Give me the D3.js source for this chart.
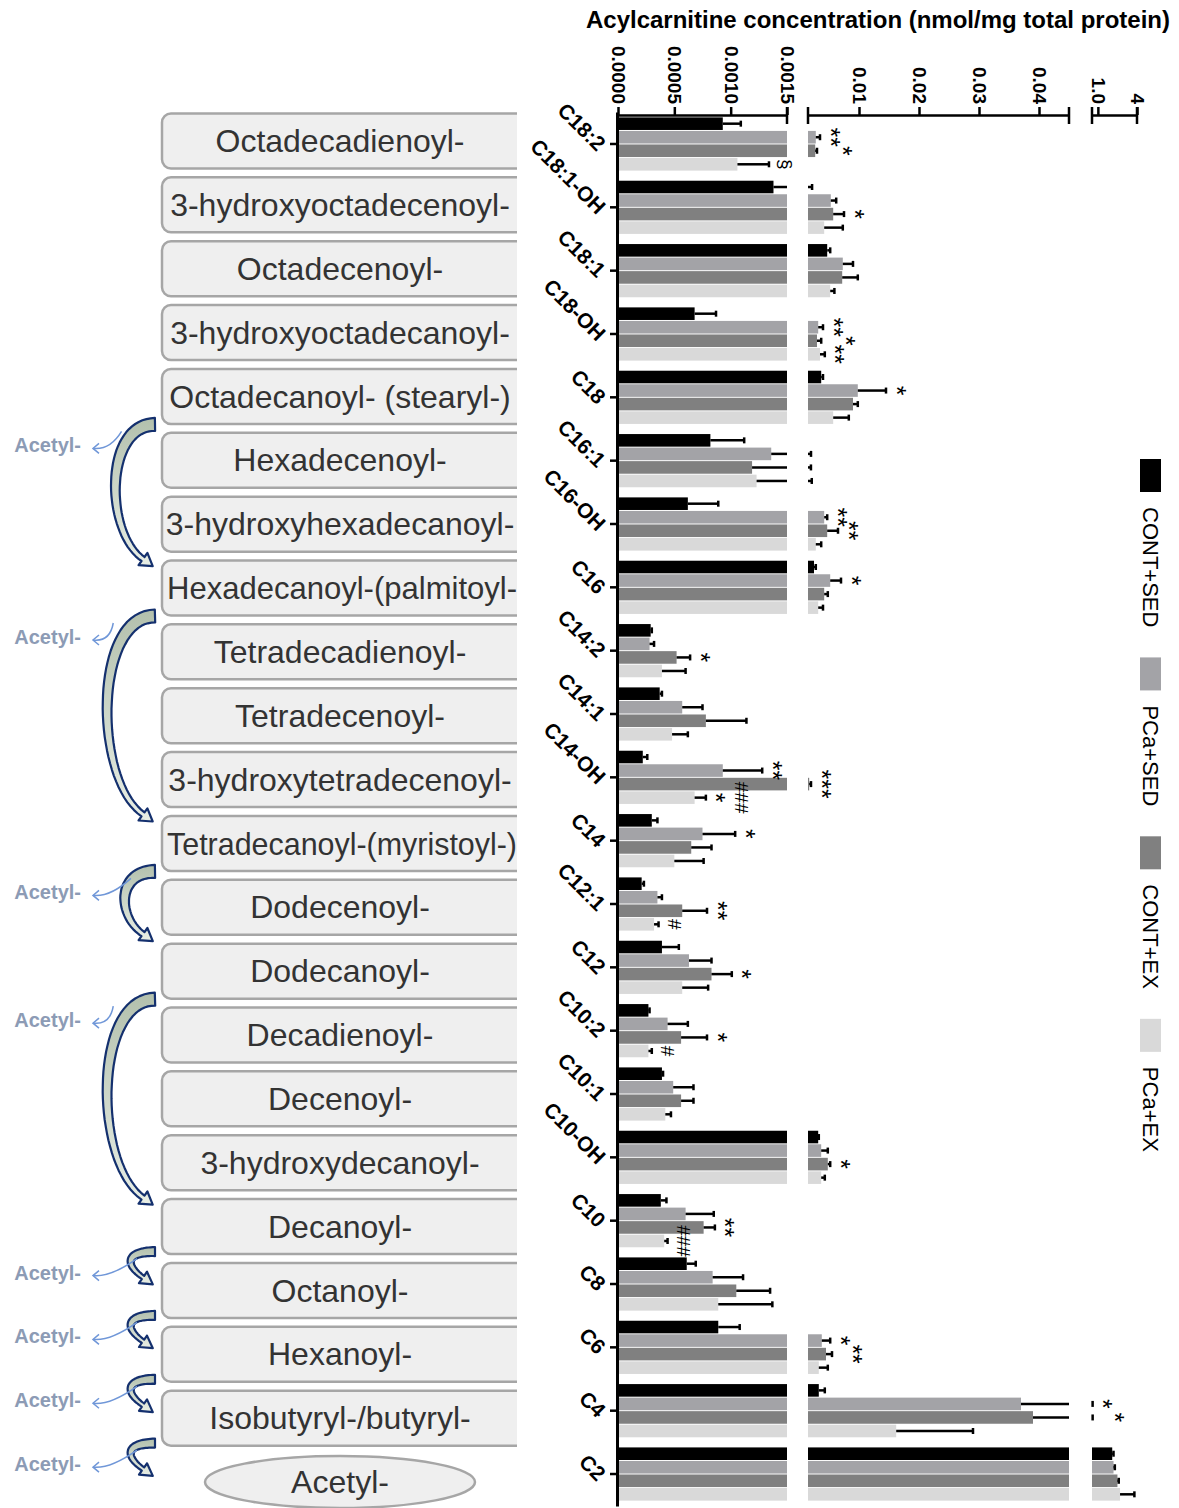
<!doctype html>
<html>
<head>
<meta charset="UTF-8">
<style>
  body { margin: 0; background: #fff; }
  svg text { font-family: "Liberation Sans", Arial, sans-serif; }
</style>
</head>
<body>
<svg id="chart" width="1179" height="1508"></svg>
<script src="https://d3js.org/d3.v7.min.js"></script>
<script>

// chain lengths, top to bottom
var categories = ["C18:2", "C18:1-OH", "C18:1", "C18-OH", "C18", "C16:1", "C16-OH", "C16",
    "C14:2", "C14:1", "C14-OH", "C14", "C12:1", "C12", "C10:2", "C10:1", "C10-OH", "C10",
    "C8", "C6", "C4", "C2"];
var groups = ["CONT+SED", "PCa+SED", "CONT+EX", "PCa+EX"];
var colors = ["#000000", "#a3a3a7", "#808080", "#d9d9d9"];

// means (nmol/mg total protein)
var contSed = [0.00093, 0.00138, 0.0047, 0.00068, 0.0037, 0.00082, 0.00062, 0.0025, 0.00029, 0.00037, 0.00022,
    0.0003, 0.00021, 0.00039, 0.00027, 0.00039, 0.0032, 0.00038, 0.00061, 0.00089, 0.0033, 2.1];
var pcaSed = [0.0028, 0.0053, 0.0073, 0.0032, 0.0098, 0.00136, 0.0042, 0.0052, 0.00028, 0.00057, 0.00093,
    0.00075, 0.00035, 0.00063, 0.00044, 0.00049, 0.0037, 0.0006, 0.00084, 0.0038, 0.037, 2.2];
var contEx = [0.0027, 0.0057, 0.0072, 0.003, 0.009, 0.00119, 0.0047, 0.0042, 0.00052, 0.00078, 0.0017,
    0.00065, 0.00057, 0.00083, 0.00056, 0.00056, 0.0048, 0.00076, 0.00105, 0.0045, 0.039, 2.5];
var pcaEx = [0.00106, 0.0042, 0.0052, 0.0035, 0.0057, 0.00123, 0.0028, 0.0032, 0.00039, 0.00048, 0.00068,
    0.0005, 0.00032, 0.00057, 0.00027, 0.00042, 0.0037, 0.00041, 0.00089, 0.0033, 0.0162, 2.7];

// SEM (upper error bar only)
var contSedSem = [0.00016, 0.0008, 0.0005, 0.00019, 0.0003, 0.0003, 0.00027, 0.0003, 0.00001, 0.00002, 0.00004,
    0.00005, 0.00002, 0.00015, 0.00001, 0.00001, 0.0001, 0.00005, 0.00008, 0.00019, 0.001, 0.1];
var pcaSedSem = [0.0007, 0.0009, 0.0017, 0.0008, 0.0047, 0.00064, 0.0005, 0.0018, 0.00004, 0.00018, 0.00035,
    0.00029, 0.00004, 0.0002, 0.00018, 0.00018, 0.0011, 0.00025, 0.00027, 0.0014, 0.56, 0.1];
var contExSem = [0.0003, 0.0018, 0.0026, 0.0007, 0.0008, 0.0008, 0.0018, 0.0006, 0.00012, 0.00036, 0.0003,
    0.00018, 0.00022, 0.00018, 0.00023, 0.00011, 0.0004, 0.0001, 0.0003, 0.001, 0.56, 0.1];
var pcaExSem = [0.00028, 0.0031, 0.0007, 0.0008, 0.0026, 0.0009, 0.0009, 0.0008, 0.00021, 0.00014, 0.0001,
    0.00026, 0.00004, 0.00023, 0.00003, 0.00005, 0.0006, 0.00003, 0.00048, 0.0015, 0.0128, 1.1];

// significance marks: [category, group index, mark]
var marks = [
    ["C18:2", 1, "**"], ["C18:2", 2, "*"], ["C18:2", 3, "§"],
    ["C18:1-OH", 2, "*"],
    ["C18-OH", 1, "**"], ["C18-OH", 2, "*"], ["C18-OH", 3, "**"],
    ["C18", 1, "*"],
    ["C16-OH", 1, "**"], ["C16-OH", 2, "**"],
    ["C16", 1, "*"],
    ["C14:2", 2, "*"],
    ["C14-OH", 1, "**"], ["C14-OH", 2, "***"], ["C14-OH", 3, "*"], ["C14-OH", 3, "###"],
    ["C14", 1, "*"],
    ["C12:1", 2, "**"], ["C12:1", 3, "#"],
    ["C12", 2, "*"],
    ["C10:2", 2, "*"], ["C10:2", 3, "#"],
    ["C10-OH", 2, "*"],
    ["C10", 2, "**"], ["C10", 3, "###"],
    ["C6", 1, "*"], ["C6", 2, "**"],
    ["C4", 1, "*"], ["C4", 2, "*"]
];

// pathway boxes on the left
var steps = ["Octadecadienoyl-", "3-hydroxyoctadecenoyl-", "Octadecenoyl-", "3-hydroxyoctadecanoyl-",
    "Octadecanoyl- (stearyl-)", "Hexadecenoyl-", "3-hydroxyhexadecanoyl-", "Hexadecanoyl-(palmitoyl-",
    "Tetradecadienoyl-", "Tetradecenoyl-", "3-hydroxytetradecenoyl-", "Tetradecanoyl-(myristoyl-)",
    "Dodecenoyl-", "Dodecanoyl-", "Decadienoyl-", "Decenoyl-", "3-hydroxydecanoyl-", "Decanoyl-",
    "Octanoyl-", "Hexanoyl-", "Isobutyryl-/butyryl-", "Acetyl-"];
// acetyl-releasing steps: [from box, to box]
var cycles = [[4, 7], [7, 11], [11, 13], [13, 17], [17, 18], [18, 19], [19, 20], [20, 21]];

var means = [contSed, pcaSed, contEx, pcaEx];
var sems = [contSedSem, pcaSedSem, contExSem, pcaExSem];

var svg = d3.select("#chart");
var defs = svg.append("defs");

// title
svg.append("text")
    .attr("x", 878).attr("y", 28)
    .attr("text-anchor", "middle")
    .style("font-size", "24px").style("font-weight", "bold")
    .text("Acylcarnitine concentration (nmol/mg total protein)");

// scales
var y = d3.scaleBand().domain(categories).range([112, 1506]).paddingInner(0.16).paddingOuter(0.085);
var yi = d3.scaleBand().domain(d3.range(groups.length)).range([0, y.bandwidth()]).paddingInner(0.07);

var segs = [
    { scale: d3.scaleLinear().domain([0, 0.0015]).range([618, 787]), entry: 0,
      ticks: [0, 0.0005, 0.001, 0.0015], fmt: d3.format(".4f") },
    { scale: d3.scaleLinear().domain([0.0015, 0.045]).range([808, 1069]), entry: 0.0015,
      ticks: [0.01, 0.02, 0.03, 0.04], fmt: d3.format(".2f") },
    { scale: d3.scaleLinear().domain([0.55, 4]).range([1092, 1137]), entry: 0.045,
      ticks: [1, 4], fmt: function (d) { return d === 1 ? "1.0" : "4"; } }
];

// part of [a, b] that is shown in one axis segment
function piece(seg, a, b) {
    var d = seg.scale.domain(), r = seg.scale.range();
    if (b <= seg.entry || a >= d[1]) return null;
    var xa = a <= d[0] ? r[0] : seg.scale(a);
    var xb = seg.scale(Math.min(b, d[1]));
    return [xa, xb];
}
function segOf(v) {
    for (var k = segs.length - 1; k >= 0; k--) if (v > segs[k].entry) return segs[k];
    return segs[0];
}

var rows = [];
categories.forEach(function (c, i) {
    groups.forEach(function (g, j) {
        rows.push({ cat: c, g: j, v: means[j][i], top: means[j][i] + sems[j][i] });
    });
});

// bars
var barG = svg.append("g");
segs.forEach(function (seg) {
    rows.forEach(function (d) {
        var p = piece(seg, 0, d.v);
        if (!p) return;
        barG.append("rect")
            .attr("x", p[0]).attr("width", Math.max(0, p[1] - p[0]))
            .attr("y", y(d.cat) + yi(d.g)).attr("height", yi.bandwidth())
            .attr("fill", colors[d.g]);
    });
});

// error bars
var errG = svg.append("g").attr("stroke", "#000").attr("stroke-width", 2.5);
segs.forEach(function (seg) {
    rows.forEach(function (d) {
        var p = piece(seg, d.v, d.top);
        if (!p) return;
        var yc = y(d.cat) + yi(d.g) + yi.bandwidth() / 2;
        errG.append("line").attr("x1", p[0]).attr("x2", p[1]).attr("y1", yc).attr("y2", yc);
        if (segOf(d.top) === seg) {
            errG.append("line").attr("x1", p[1]).attr("x2", p[1]).attr("y1", yc - 3).attr("y2", yc + 3);
        }
    });
});

// significance marks, nudged right when they would collide
var glyphMid = { "*": 0.58, "#": 0.34, "§": 0.33 };
var placed = [];
var markG = svg.append("g");
marks.forEach(function (m) {
    var i = categories.indexOf(m[0]);
    var top = means[m[1]][i] + sems[m[1]][i];
    var yc = y(m[0]) + yi(m[1]) + yi.bandwidth() / 2;
    var x = segOf(top).scale(top) + 16;
    placed.forEach(function (p) {
        if (p.cat === m[0] && p.g === m[1]) x = Math.max(x, p.x + 20);
        else if (Math.abs(p.x - x) < 10 && Math.abs(p.y - yc) < 14) x = p.x + 12;
    });
    placed.push({ cat: m[0], g: m[1], x: x, y: yc });
    var star = m[2][0] === "*";
    markG.append("text")
        .attr("transform", "translate(" + x + "," + yc + ") rotate(90)")
        .attr("text-anchor", "middle").attr("dy", glyphMid[m[2][0]] + "em")
        .attr("fill", "#000")
        .style("font-size", star ? "25px" : "19px")
        .text(m[2]);
});

// top axes, one per segment
segs.forEach(function (seg, k) {
    var ax = svg.append("g")
        .attr("transform", "translate(0,115)")
        .call(d3.axisTop(seg.scale).tickValues(seg.ticks).tickFormat(seg.fmt).tickSize(8).tickSizeOuter(0));
    ax.select(".domain").attr("stroke-width", 2.5);
    ax.selectAll(".tick line").attr("stroke-width", 2.5);
    ax.selectAll(".tick text")
        .attr("x", 0).attr("y", 0).attr("dy", "0.35em")
        .attr("transform", "translate(0,-11) rotate(90)")
        .attr("text-anchor", "end")
        .style("font-size", "19px").style("font-weight", "bold").attr("fill", "#000");
    var r = seg.scale.range();
    var ends = k === 0 ? [r[1]] : r;
    ends.forEach(function (xe) {
        svg.append("line").attr("x1", xe).attr("x2", xe).attr("y1", 107).attr("y2", 124)
            .attr("stroke", "#000").attr("stroke-width", 2.5);
    });
});

// left axis
var yAx = svg.append("g")
    .attr("transform", "translate(617,0)")
    .call(d3.axisLeft(y).tickSize(7).tickSizeOuter(0).tickFormat(""));
yAx.select(".domain").attr("stroke-width", 3);
yAx.selectAll(".tick line").attr("stroke-width", 2.5);

svg.append("g").selectAll("text")
    .data(categories).enter().append("text")
    .attr("transform", function (d) { return "translate(602," + (y(d) + y.bandwidth() / 2 + 3) + ") rotate(45)"; })
    .attr("text-anchor", "end").attr("dy", "0.35em")
    .style("font-size", "21px").style("font-weight", "bold")
    .text(function (d) { return d; });

// legend
var ly = 459;
groups.forEach(function (g, j) {
    svg.append("rect").attr("x", 1140).attr("y", ly).attr("width", 21).attr("height", 33).attr("fill", colors[j]);
    ly += 33 + 15;
    var t = svg.append("text")
        .attr("transform", "translate(1151," + ly + ") rotate(90)")
        .attr("dy", "0.35em")
        .style("font-size", "22px")
        .text(g);
    ly += t.node().getComputedTextLength() + 30;
});

// pathway boxes
defs.append("clipPath").attr("id", "boxclip")
    .append("rect").attr("x", 0).attr("y", 0).attr("width", 517).attr("height", 1508);
var grad = defs.append("linearGradient").attr("id", "arrowfill")
    .attr("x1", 0).attr("y1", 0).attr("x2", 0).attr("y2", 1);
grad.append("stop").attr("offset", "0%").attr("stop-color", "#b3c0ad");
grad.append("stop").attr("offset", "100%").attr("stop-color", "#e8eee5");

var by = d3.scalePoint().domain(steps).range([141, 1482]);
var boxG = svg.append("g").attr("clip-path", "url(#boxclip)");
steps.forEach(function (s, i) {
    var cy = by(s);
    if (i === steps.length - 1) {
        boxG.append("ellipse").attr("cx", 340).attr("cy", cy).attr("rx", 135).attr("ry", 26)
            .attr("fill", "#efefef").attr("stroke", "#a6a6a6").attr("stroke-width", 2.5);
    } else {
        boxG.append("rect").attr("x", 162).attr("y", cy - 27.5).attr("width", 380).attr("height", 55)
            .attr("rx", 9).attr("fill", "#efefef").attr("stroke", "#a6a6a6").attr("stroke-width", 2.5);
    }
    var txt = boxG.append("text").attr("x", 340).attr("y", cy).attr("dy", "0.35em")
        .attr("text-anchor", "middle").attr("fill", "#333")
        .style("font-size", "32px").text(s);
    // keep long names inside the box
    if (txt.node().getComputedTextLength() > 350) txt.attr("x", 342).attr("textLength", 350).attr("lengthAdjust", "spacingAndGlyphs");
});

// curved block arrows with acetyl release
function bez(p0, p1, p2, p3, t) {
    var u = 1 - t;
    return [u * u * u * p0[0] + 3 * u * u * t * p1[0] + 3 * u * t * t * p2[0] + t * t * t * p3[0],
            u * u * u * p0[1] + 3 * u * u * t * p1[1] + 3 * u * t * t * p2[1] + t * t * t * p3[1]];
}
var arrowG = svg.append("g");
cycles.forEach(function (cy) {
    var span = by(steps[cy[1]]) - by(steps[cy[0]]);
    var small = span < 100;
    var y0 = by(steps[cy[0]]) + (small ? 19 : 22);
    var y1 = small ? by(steps[cy[1]]) - 4 : by(steps[cy[1]]) - (span < 150 ? 28 : 20);
    var xl = small ? 131 : 135 - (y1 - y0) * 0.13;
    var P0 = [155, y0 + 6], P3 = [143, y1 - 9];
    var c = (8 * xl - P0[0] - P3[0]) / 6;
    var P1 = [c, y0 + 6], P2 = [c, P3[1] - 0.7 * (P3[0] - c)];
    var w0 = small ? 9 : 13, w1 = small ? 4 : 5;
    var outer = [], inner = [];
    var N = 40;
    for (var k = 0; k <= N; k++) {
        var t = k / N;
        var p = bez(P0, P1, P2, P3, t);
        var q = bez(P0, P1, P2, P3, Math.min(1, t + 0.01));
        var pp = bez(P0, P1, P2, P3, Math.max(0, t - 0.01));
        var dx = q[0] - pp[0], dy = q[1] - pp[1], L = Math.hypot(dx, dy);
        var nx = -dy / L, ny = dx / L;
        var w = (w0 + (w1 - w0) * t) / 2;
        outer.push([p[0] + nx * w, p[1] + ny * w]);
        inner.push([p[0] - nx * w, p[1] - ny * w]);
        if (k === N) {
            var ux = dx / L, uy = dy / L, hw = w + 5;
            outer.push([p[0] + nx * hw, p[1] + ny * hw]);
            outer.push([p[0] + ux * 12, p[1] + uy * 12]);
            outer.push([p[0] - nx * hw, p[1] - ny * hw]);
        }
    }
    var pts = outer.concat(inner.reverse());
    arrowG.append("path")
        .attr("d", "M" + pts.map(function (p) { return p[0].toFixed(1) + "," + p[1].toFixed(1); }).join("L") + "Z")
        .attr("fill", "url(#arrowfill)").attr("stroke", "#14306e").attr("stroke-width", 2.2)
        .attr("stroke-linejoin", "round");

    // thin arrow to the released acetyl
    var tipY = y0 + 30;
    arrowG.append("path")
        .attr("d", "M" + (xl + 6) + "," + (y0 + 13) + "Q" + 110 + "," + (tipY + 2) + " " + 93 + "," + tipY)
        .attr("fill", "none").attr("stroke", "#7097d8").attr("stroke-width", 1.5);
    arrowG.append("path")
        .attr("d", "M99," + (tipY - 5) + "L93," + tipY + "L99," + (tipY + 5))
        .attr("fill", "none").attr("stroke", "#7097d8").attr("stroke-width", 1.5);
    arrowG.append("text")
        .attr("x", 81).attr("y", y0 + 27).attr("dy", "0.35em")
        .attr("text-anchor", "end").attr("fill", "#8c9bb5")
        .style("font-size", "20px").style("font-weight", "bold")
        .text("Acetyl-");
});

</script>
</body>
</html>
